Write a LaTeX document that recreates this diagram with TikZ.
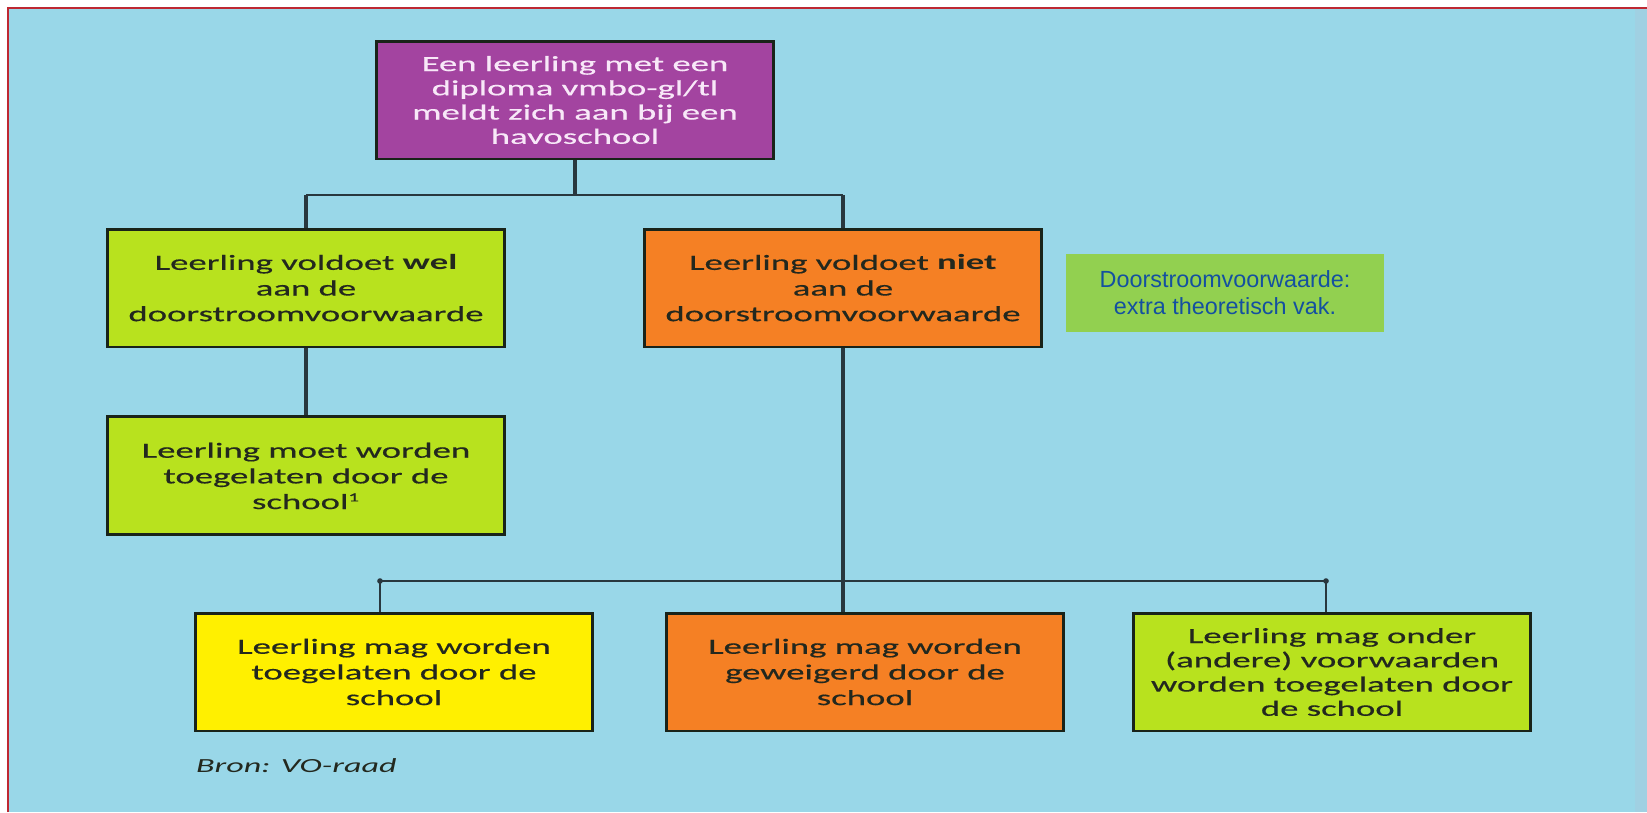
\documentclass[tikz,border=0pt]{standalone}
\usepackage{fontspec}
\usepackage{xcolor}
\usepackage{tikz}
\usetikzlibrary{shapes,arrows,positioning}

\setmainfont{Carlito}[FakeStretch=1.7, UprightFeatures={FakeBold=0.5}]
\newfontfamily\notefont{Liberation Sans}

\definecolor{bgblue}{RGB}{153,215,232}
\definecolor{bgedge}{RGB}{160,208,226}
\definecolor{edgered}{RGB}{190,40,50}
\definecolor{boxpurple}{RGB}{163,68,160}
\definecolor{boxlime}{RGB}{184,226,30}
\definecolor{boxorange}{RGB}{245,128,36}
\definecolor{boxyellow}{RGB}{255,240,0}
\definecolor{notegreen}{RGB}{146,208,80}
\definecolor{noteblue}{RGB}{20,80,160}
\definecolor{linedark}{RGB}{40,55,62}
\definecolor{boxedge}{RGB}{25,35,25}
\definecolor{textdark}{RGB}{35,40,30}
\definecolor{textlight}{RGB}{248,232,248}

\begin{document}
\begin{tikzpicture}[x=0.02cm, y=-0.02cm, node distance=3.76cm]
    % Define styles
    \tikzstyle{stepbox} = [rectangle, draw=boxedge, line width=1.7pt, inner sep=0pt, minimum width=7.96cm, minimum height=2.36cm, align=center, text=textdark, font=\fontsize{12.3}{14.6}\selectfont]
    \tikzstyle{startbox} = [stepbox, fill=boxpurple, text=textlight, font=\fontsize{12.3}{13.8}\selectfont]
    \tikzstyle{okbox} = [stepbox, fill=boxlime]
    \tikzstyle{nobox} = [stepbox, fill=boxorange]
    \tikzstyle{maybebox} = [stepbox, fill=boxyellow]
    \tikzstyle{note} = [rectangle, fill=notegreen, minimum width=6.36cm, minimum height=1.56cm, align=center, text=noteblue, font=\notefont\fontsize{13.3}{15.3}\selectfont]
    \tikzstyle{thickline} = [draw=linedark, line width=2.4pt]
    \tikzstyle{thinline} = [draw=linedark, line width=1.5pt]

    % Background
    \useasboundingbox (0,0) rectangle (1647,812);
    \fill[white] (0,0) rectangle (1647,812);
    \fill[bgblue] (8,8) rectangle (1647,812);
    \fill[bgedge] (1635,8) rectangle (1647,812);
    \draw[edgered, line width=1.2pt] (8,812) -- (8,8) -- (1647,8);

    % Nodes
    \node [startbox] (start) at (575,100) {Een leerling met een\\diploma vmbo-gl/tl\\meldt zich aan bij een\\havoschool};
    \node [okbox] (wel) at (306,288) {Leerling voldoet \textbf{wel}\\aan de\\doorstroomvoorwaarde};
    \node [nobox] (niet) at (843,288) {Leerling voldoet \textbf{niet}\\aan de\\doorstroomvoorwaarde};
    \node [okbox, below of=wel] (moet) {Leerling moet worden\\toegelaten door de\\school\textsuperscript{\scriptsize 1}};
    \node [note] (voorwaarde) at (1225,293) {Doorstroomvoorwaarde:\\extra theoretisch vak.};
    \node [maybebox] (toegelaten) at (394,672) {Leerling mag worden\\toegelaten door de\\school};
    \node [nobox] (geweigerd) at (865,672) {Leerling mag worden\\geweigerd door de\\school};
    \node [okbox, font=\fontsize{12.3}{13.8}\selectfont] (andere) at (1332,672) {Leerling mag onder\\(andere) voorwaarden\\worden toegelaten door\\de school};
    \node [anchor=west, text=textdark, font=\fontsize{11.4}{13}\selectfont\itshape] (bron) at (190,766) {Bron: VO-raad};

    % Lines
    \coordinate (split) at (575,195);
    \coordinate (left end) at (380,581);
    \coordinate (right end) at (1326,581);
    \draw [thickline] (start) -- (split);
    \draw [thinline] (wel.north |- split) -- (niet.north |- split);
    \draw [thickline] (wel.north) -- (wel.north |- split);
    \draw [thickline] (niet.north) -- (niet.north |- split);
    \draw [thickline] (wel) -- (moet);
    \draw [thickline] (niet.south) -- (niet.south |- geweigerd.north);
    \draw [thinline] (left end) -- (right end);
    \draw [thinline] (left end) -- (left end |- toegelaten.north);
    \draw [thinline] (right end) -- (right end |- andere.north);
    \fill [linedark] (left end) circle[radius=1.6pt] (right end) circle[radius=1.6pt];
\end{tikzpicture}
\end{document}
